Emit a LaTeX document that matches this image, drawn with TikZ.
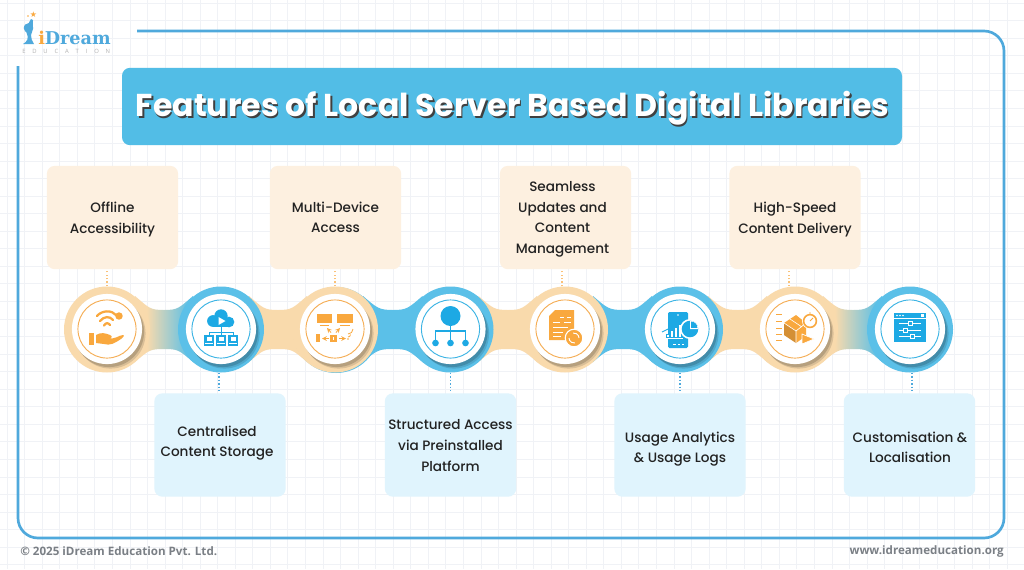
\documentclass[tikz,border=0pt]{standalone}
\usepackage{fontspec}
\setmainfont{Poppins}
\newfontfamily\pmed{Poppins Medium}
\newfontfamily\pbold{Poppins}[BoldFont=* Bold]
\newfontfamily\logofont{DejaVu Serif}
\newfontfamily\footfont{Open Sans}
\newfontfamily\symfont{DejaVu Sans}
\usetikzlibrary{calc}
\definecolor{gridc}{HTML}{F0F2F6}
\definecolor{framec}{HTML}{4FA9DC}
\definecolor{titlec}{HTML}{52BDE6}
\definecolor{orb}{HTML}{F9DAAC}
\definecolor{blb}{HTML}{5BC0E8}
\definecolor{oric}{HTML}{F9A83E}
\definecolor{blic}{HTML}{1DA9E4}
\definecolor{ringo}{HTML}{F5AE55}
\definecolor{ringb}{HTML}{3DB4E4}
\definecolor{boxo}{HTML}{FDF0E0}
\definecolor{boxb}{HTML}{E0F4FD}
\definecolor{txt}{HTML}{222222}
\definecolor{foot}{HTML}{7A7F85}
\pgfdeclarehorizontalshading{obgrad}{100bp}{color(0bp)=(orb); color(35bp)=(orb); color(72bp)=(blb); color(100bp)=(blb)}
\tikzset{
 fbox/.style={rounded corners=6pt,minimum width=98.5pt,minimum height=77.5pt,inner sep=0pt},
 topbox/.style={fbox,fill=boxo},
 botbox/.style={fbox,fill=boxb},
 ftext/.style={inner sep=0pt,align=center,text=txt,font=\pmed\fontsize{10.2}{15.4}\selectfont},
 hubo/.style={circle,minimum size=64.5pt,inner sep=0pt,fill=orb},
 hubb/.style={circle,minimum size=64.5pt,inner sep=0pt,fill=blb},
 dotso/.style={draw=oric!70,line width=1pt,dash pattern=on 1pt off 1.6pt},
 dotsb/.style={draw=framec,line width=1pt,dash pattern=on 1pt off 1.6pt},
}
\newcommand\hubface[3]{%
 \fill[black,opacity=.12] (#1+3.5,329+4.5) circle (26.3pt);
 \fill[black,opacity=.16] (#1+2,329+3) circle (26.3pt);
 \fill[white] (#1,329) circle (26.3pt);
 \draw[#2,line width=.7pt] (#1,329) circle (21.8pt);
}
\newcommand\neck[4]{%
 \path[#4] (#1+28,296) .. controls (#1+42,308) and (#3-14,310) .. (#3,310)
   .. controls (#3+14,310) and (#2-42,308) .. (#2-28,296)
   -- (#2-28,362) .. controls (#2-42,350) and (#3+14,349) .. (#3,349)
   .. controls (#3-14,349) and (#1+42,350) .. (#1+28,362) -- cycle;
}
\begin{document}
\begin{tikzpicture}[x=0.75pt,y=-0.75pt]
\useasboundingbox (0,0) rectangle (1024,569);
\fill[white] (0,0) rectangle (1024,569);
% paper grid
\foreach \i in {0,...,58} {\draw[gridc,line width=.5pt] (\i*17.55+7,0) -- (\i*17.55+7,569);}
\foreach \i in {0,...,32} {\draw[gridc,line width=.5pt] (0,\i*17.55+3) -- (1024,\i*17.55+3);}
% frame
\draw[framec,line width=2pt,rounded corners=15pt]
  (137,31) -- (1004,31) -- (1004,538) -- (18,538) -- (18,66);
% logo
\node[anchor=base west,inner sep=0pt,text=framec,font=\logofont\bfseries\fontsize{13.2}{14}\selectfont] (logo) at (38,44) {\textcolor{oric}{i}Dream};
\node[anchor=base west,inner sep=0pt,text=gray!60,font=\footfont\fontsize{4.4}{5}\selectfont] (logosub) at (22,53) {E\,\,\,\,\,\,\,D\,\,\,\,\,\,\,U\,\,\,\,\,\,\,C\,\,\,\,\,\,\,A\,\,\,\,\,\,\,T\,\,\,\,\,\,\,I\,\,\,\,\,\,\,O\,\,\,\,\,\,\,N};
\fill[framec] (28.5,28) circle (3.6pt);
\fill[framec] (24,26) .. controls (28,25) and (30,22) .. (31,19) -- (33,20) .. controls (33,28) and (33,30) .. (31,35)
  .. controls (31,38) and (32,41) .. (34,44) -- (23,44) .. controls (27,42) and (29,38) .. (27,34) -- cycle;
\node[inner sep=0pt,text=oric,font=\symfont\fontsize{6}{6}\selectfont] (logostar) at (33.5,15) {★};
\fill[oric] (28,16) circle (.7pt);
% title
\node[fill=titlec,rounded corners=6pt,minimum width=585pt,minimum height=58pt,inner sep=0pt] (title) at (512,106.5) {};
\node[text=black!75,inner sep=0pt,font=\pbold\bfseries\fontsize{23.7}{28}\selectfont] (titleshadow) at (514,110.5) {Features of Local Server Based Digital Libraries};
\node[text=white,inner sep=0pt,font=\pbold\bfseries\fontsize{23.7}{28}\selectfont] (titletext) at (512.5,108.5) {Features of Local Server Based Digital Libraries};
% boxes
\node[topbox] (b1) at (112.5,217.5) {};
\node[topbox] (b3) at (335.5,217.5) {};
\node[topbox] (b5) at (565.5,217.5) {};
\node[topbox] (b7) at (795,217.5) {};
\node[botbox] (b2) at (220,445) {};
\node[botbox] (b4) at (450.5,445) {};
\node[botbox] (b6) at (680,445) {};
\node[botbox] (b8) at (909.5,445) {};
\node[ftext] (t1) at (112.5,219.5) {Offline\\Accessibility};
\node[ftext] (t3) at (335.5,217.5) {Multi-Device\\Access};
\node[ftext] (t5) at (562.5,219.5) {Seamless\\Updates and\\Content\\Management};
\node[ftext] (t7) at (795,219.5) {High-Speed\\Content Delivery};
\node[ftext] (t2) at (217,443) {Centralised\\Content Storage};
\node[ftext] (t4) at (450.5,445.5) {Structured Access\\via Preinstalled\\Platform};
\node[ftext] (t6) at (680,449) {Usage Analytics\\\& Usage Logs};
\node[ftext] (t8) at (910,447.5) {Customisation \&\\Localisation};
% ribbon necks
\neck{107}{221}{164}{shading=obgrad}
\neck{221}{335}{278}{fill=orb}
\neck{335}{450.5}{393}{fill=blb}
\neck{450.5}{565}{508}{fill=orb}
\neck{565}{680}{623}{fill=blb}
\neck{680}{795}{738}{fill=orb}
\neck{795}{910}{853}{shading=obgrad}
% hubs
\fill[blb] (336,330) circle (32.25pt);
\node[hubo] (c1) at (107,329.5) {};
\node[hubb] (c2) at (221,329.5) {};
\node[hubo] (c3) at (335,329.5) {};
\node[hubb] (c4) at (450.5,329.5) {};
\node[hubo] (c5) at (565,329.5) {};
\node[hubb] (c6) at (680,329.5) {};
\node[hubo] (c7) at (795,329.5) {};
\node[hubb] (c8) at (910,329.5) {};
\hubface{107}{ringo}{}
\hubface{221}{ringb}{}
\hubface{335}{ringo}{}
\hubface{450.5}{ringb}{}
\hubface{565}{ringo}{}
\hubface{680}{ringb}{}
\hubface{795}{ringo}{}
\hubface{910}{ringb}{}
% connectors
\draw[dotso] (c1.north) -- (c1.north |- b1.south);
\draw[dotsb] ($(c2.south)+(-2,0)$) -- ($(c2.south |- b2.north)+(-2,0)$);
\draw[dotso] (c3.north) -- (c3.north |- b3.south);
\draw[dotsb] (c4.south) -- (c4.south |- b4.north);
\draw[dotso] ($(c5.north)+(-3,0)$) -- ($(c5.north |- b5.south)+(-3,0)$);
\draw[dotsb] (c6.south) -- (c6.south |- b6.north);
\draw[dotso] ($(c7.north)+(-6,0)$) -- ($(c7.north |- b7.south)+(-6,0)$);
\draw[dotsb] ($(c8.south)+(2,0)$) -- ($(c8.south |- b8.north)+(2,0)$);
% icon 1: wifi + hand
\begin{scope}[shift={(107,329)}]
 \draw[oric,line width=1.7pt,line cap=round] (-10,-13) .. controls (-5,-19) and (5,-19) .. (9,-14);
 \draw[oric,line width=1.7pt,line cap=round] (-7,-8) .. controls (-3,-13) and (3,-13) .. (6,-9);
 \draw[oric,line width=1.7pt,line cap=round] (-3,-3.5) .. controls (-1,-6.5) and (1,-6.5) .. (3,-4);
 \fill[oric] (12,-13) circle (2.8pt);
 \fill[oric] (-18,4) rectangle (-13,16);
 \fill[oric] (-11,6) .. controls (-6,3) and (-2,4) .. (3,6) .. controls (6,7) and (5,10) .. (1,9)
   .. controls (8,11) and (12,6) .. (16,6) .. controls (18,6) and (16,9) .. (14,10)
   .. controls (8,14) and (3,17) .. (-3,15) -- (-11,14) -- cycle;
\end{scope}
% icon 2: cloud + books
\begin{scope}[shift={(221,329)}]
 \fill[blic] (-8,-8) circle (4.4pt);
 \fill[blic] (0,-13) circle (5pt);
 \fill[blic] (8,-7) circle (4pt);
 \fill[blic] (-8,-8) rectangle (8,-2);
 \fill[white] (-2.5,-12) -- (4.5,-8) -- (-2.5,-4) -- cycle;
 \draw[blic,line width=.7pt] (0,-2) -- (0,6) (-12,6) -- (-12,3) -- (12,3) -- (12,6);
 \foreach \xx in {-12,0,12} {
  \fill[blic] (\xx-5,6) rectangle (\xx+5,17);
  \fill[white] (\xx-2.5,8) rectangle (\xx+2.5,12);
  \draw[white,line width=.4pt] (\xx-4,14.5) -- (\xx+4,14.5);
 }
\end{scope}
% icon 3: devices
\begin{scope}[shift={(335,329)}]
 \fill[oric] (-18,-15) rectangle (-3,-6);
 \fill[oric] (2,-15) rectangle (18,-6);
 \draw[oric,line width=.6pt] (-15,-3.5) -- (-6,-3.5) (5,-3.5) -- (15,-3.5);
 \fill[oric] (-19,5) rectangle (-15,13);
 \fill[oric] (-5,6) rectangle (2,13);
 \draw[white,line width=.4pt] (-1.5,8) -- (-1.5,11);
 \draw[oric,line width=.6pt,->,>=stealth] (-6,9.5) -- (-13,9.5);
 \draw[oric,line width=.6pt,->,>=stealth] (4,9.5) -- (11,9.5);
 \draw[oric,line width=.6pt,->,>=stealth] (-4,3.5) -- (-8,-1);
 \draw[oric,line width=.6pt,->,>=stealth] (1,3.5) -- (5,-1);
 \draw[oric,line width=.6pt] (13,5) arc (90:0:5) (13,8) arc (90:0:2.5);
 \fill[oric] (13,10) circle (.7pt);
\end{scope}
% icon 4: hierarchy
\begin{scope}[shift={(450.5,329)}]
 \fill[blic] (0,-13) circle (7.5pt);
 \draw[blic,line width=.9pt] (0,-3) -- (0,14) (-15,12) -- (-15,2) -- (15,2) -- (15,12);
 \fill[blic] (-15,14) circle (2.5pt);
 \fill[blic] (0,14) circle (2.5pt);
 \fill[blic] (15,14) circle (2.5pt);
\end{scope}
% icon 5: document
\begin{scope}[shift={(565,329)}]
 \fill[oric] (-10,-19) -- (9,-19) -- (9,11) -- (-16,11) -- (-16,-13) -- cycle;
 \draw[white,line width=.6pt] (-5,-12) -- (-1,-12) (2,-12) -- (6,-12) (-1,-7) -- (6,-7)
   (-12,-7) -- (-5,-7) (-12,-2) -- (3,-2) (-12,3) -- (-2,3) (-12,7) -- (-4,7);
 \fill[oric,draw=white,line width=.8pt] (9,9) circle (6.6pt);
 \draw[white,line width=.7pt] (4,9) arc (180:80:5) (14,9) arc (0:-100:5);
\end{scope}
% icon 6: phone and charts
\begin{scope}[shift={(680,329)}]
 \fill[blic,rounded corners=1pt] (-12,-17) rectangle (8,19);
 \draw[white,line width=.6pt] (-7,15) -- (-4,15) (-2,15) -- (0,15) (2,15) -- (4,15);
 \fill[white] (-2,-14) circle (.6pt);
 \fill[white] (-18,8.5) rectangle (3,9.2);
 \foreach \xx/\yy in {-14/5,-10/1,-6/-2,-2/-5} {\draw[blic,fill=white,line width=.5pt] (\xx,\yy) rectangle (\xx+3,8);}
 \draw[blic,line width=.7pt] (-18,3) .. controls (-10,-1) and (-4,-3) .. (1,-10);
 \fill[white] (10,0) circle (7.5pt);
 \fill[blic] (10,0) circle (6.2pt);
 \fill[white] (10,0) -- (10,-8.3) arc (-90:0:8.3) -- cycle;
 \fill[blic] (11.2,-1.2) -- (11.2,-7.4) arc (-90:0:6.2) -- cycle;
\end{scope}
% icon 7: parcel + stopwatch
\begin{scope}[shift={(795,329)}]
 \fill[oric] (-11,-6) -- (1,-14) -- (11,-6) -- (1,2) -- cycle;
 \fill[oric!85!black] (-11,-6) -- (1,2) -- (1,14) -- (-11,6) -- cycle;
 \fill[oric] (1,2) -- (11,-6) -- (11,7) -- (1,14) -- cycle;
 \draw[white,line width=.5pt] (-11,-6) -- (1,2) -- (11,-6) (1,2) -- (1,14) (-5,-10) -- (7,-2);
 \foreach \yy in {-15,-8,-1,5,11} {\draw[oric,line width=.6pt] (-19,\yy) -- (-13,\yy);}
 \fill[white] (15,-8) circle (6pt);
 \draw[oric,line width=1.2pt] (15,-8) circle (4.8pt);
 \draw[oric,line width=.6pt] (15,-8) -- (18,-11) (15,-17) -- (15,-15);
 \fill[oric,draw=white,line width=.5pt] (7,5) -- (19,10) -- (7,15) -- cycle;
\end{scope}
% icon 8: settings window
\begin{scope}[shift={(910,329)}]
 \fill[blic] (-16,-16) rectangle (16,13);
 \fill[white] (-13,-13.5) circle (.6pt);
 \fill[white] (-10,-13.5) circle (.6pt);
 \fill[white] (-7,-13.5) circle (.6pt);
 \fill[white] (11,-15) rectangle (14,-12);
 \draw[white,line width=.5pt] (-16,-11) -- (16,-11);
 \draw[white,line width=.6pt] (-11,-6) -- (11,-6) (-11,1) -- (11,1) (-11,7) -- (11,7);
 \draw[white,fill=blic,line width=.6pt] (-2,-8) rectangle (2,-4);
 \draw[white,fill=blic,line width=.6pt] (-7,-1) rectangle (-3,3);
 \draw[white,fill=blic,line width=.6pt] (0,5) rectangle (4,9);
\end{scope}
% footer
\node[anchor=west,inner sep=0pt,text=foot,font=\footfont\bfseries\fontsize{8.7}{10}\selectfont] (copy) at (20,551) {© 2025 iDream Education Pvt. Ltd.};
\node[anchor=east,inner sep=0pt,text=foot,font=\footfont\bfseries\fontsize{8.7}{10}\selectfont] (web) at (1004,551) {www.idreameducation.org};
\end{tikzpicture}
\end{document}
